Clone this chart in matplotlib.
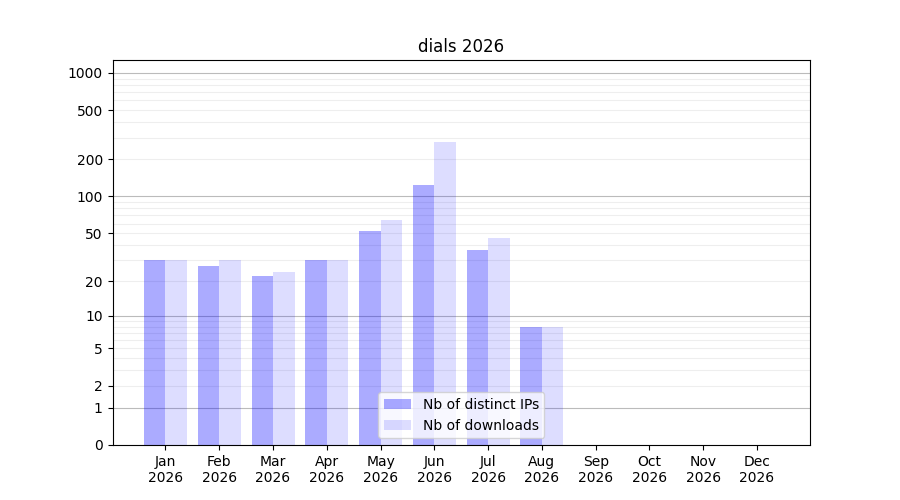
import numpy as np
import matplotlib
matplotlib.use("Agg")
import matplotlib.pyplot as plt

months = ["Jan", "Feb", "Mar", "Apr", "May", "Jun", "Jul", "Aug", "Sep", "Oct", "Nov", "Dec"]
year = "2026"
distinct_ips = [30, 27, 22, 30, 52, 124, 36, 8, 0, 0, 0, 0]
downloads = [30, 30, 24, 30, 64, 276, 46, 8, 0, 0, 0, 0]

major_ticks = [0, 1, 2, 5, 10, 20, 50, 100, 200, 500, 1000]
minor_ticks = [3, 4, 6, 7, 8, 9, 30, 40, 60, 70, 80, 90, 300, 400, 600, 700, 800, 900]
decades = [1, 10, 100, 1000]

fig, ax = plt.subplots(figsize=(9, 5), dpi=100)
ax.set_axisbelow(True)

x = np.arange(len(months))
w = 0.4
ax.bar(x, distinct_ips, width=-w, align='edge', color='blue', alpha=0.33, label='Nb of distinct IPs')
ax.bar(x, downloads, width=w, align='edge', color='blue', alpha=0.135, label='Nb of downloads')

# log(1+x) scale so zero shows up
ax.set_yscale('function', functions=(lambda v: np.log10(1 + np.maximum(v, 0)), lambda v: 10 ** v - 1))
ax.set_ylim(0, 1270)
ax.set_yticks(major_ticks)
ax.set_yticklabels([str(t) for t in major_ticks])
ax.set_yticks(minor_ticks, minor=True)
ax.tick_params(axis='y', which='minor', length=0)
ax.grid(True, which='major', axis='y', linewidth=0.8)
ax.grid(True, which='minor', axis='y', color='#eeeeee', linewidth=0.8)
# only the decades get the darker line
for t, gl in zip(major_ticks, ax.yaxis.get_gridlines()):
    gl.set_color('#bbbbbb' if t in decades else '#eeeeee')

ax.set_xticks(x)
ax.set_xticklabels([m + "\n" + year for m in months])
ax.set_xlim(-0.985, 11.985)

ax.set_title("dials 2026")
ax.legend(loc='lower center')

plt.savefig("out.png")
